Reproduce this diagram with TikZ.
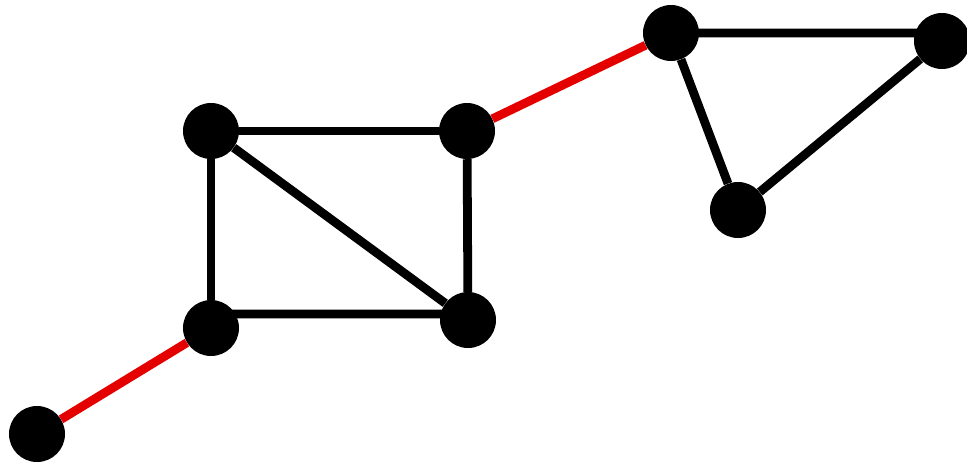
\documentclass[tikz,border=0pt]{standalone}
\usetikzlibrary{positioning}
\tikzset{
    vertex/.style={circle, fill=black, inner sep=0pt, minimum size=1.68cm},
    edge/.style={line width=7.5pt, draw=black},
    bridge/.style={edge, draw=red!90!black}
}

\begin{document}
\begin{tikzpicture}[x=0.03cm, y=-0.03cm]
    \useasboundingbox (0,0) rectangle (967,465);

    \node (a) [vertex] at (37,434) {};
    \node (b) [vertex] at (211,328) {};
    \node (c) [vertex] at (211,131) {};
    \node (d) [vertex] at (467,131) {};
    \node (e) [vertex] at (468,320) {};
    \node (f) [vertex] at (671,33) {};
    \node (g) [vertex] at (942,41) {};
    \node (h) [vertex] at (738,210) {};

    \draw [bridge] (a) -- (b);
    \draw [edge] (b) -- (c);
    \draw [edge] (c) -- (d);
    \draw [edge] ([yshift=0.42cm]b.center) -- ([yshift=0.18cm]e.center);
    \draw [edge] (d) -- (e);
    \draw [edge] (c) -- (e);
    \draw [bridge] (d) -- (f);
    \draw [edge] (f.center) -- ([yshift=0.24cm]g.center);
    \draw [edge] (g) -- (h);
    \draw [edge] (f) -- (h);
\end{tikzpicture}
\end{document}
